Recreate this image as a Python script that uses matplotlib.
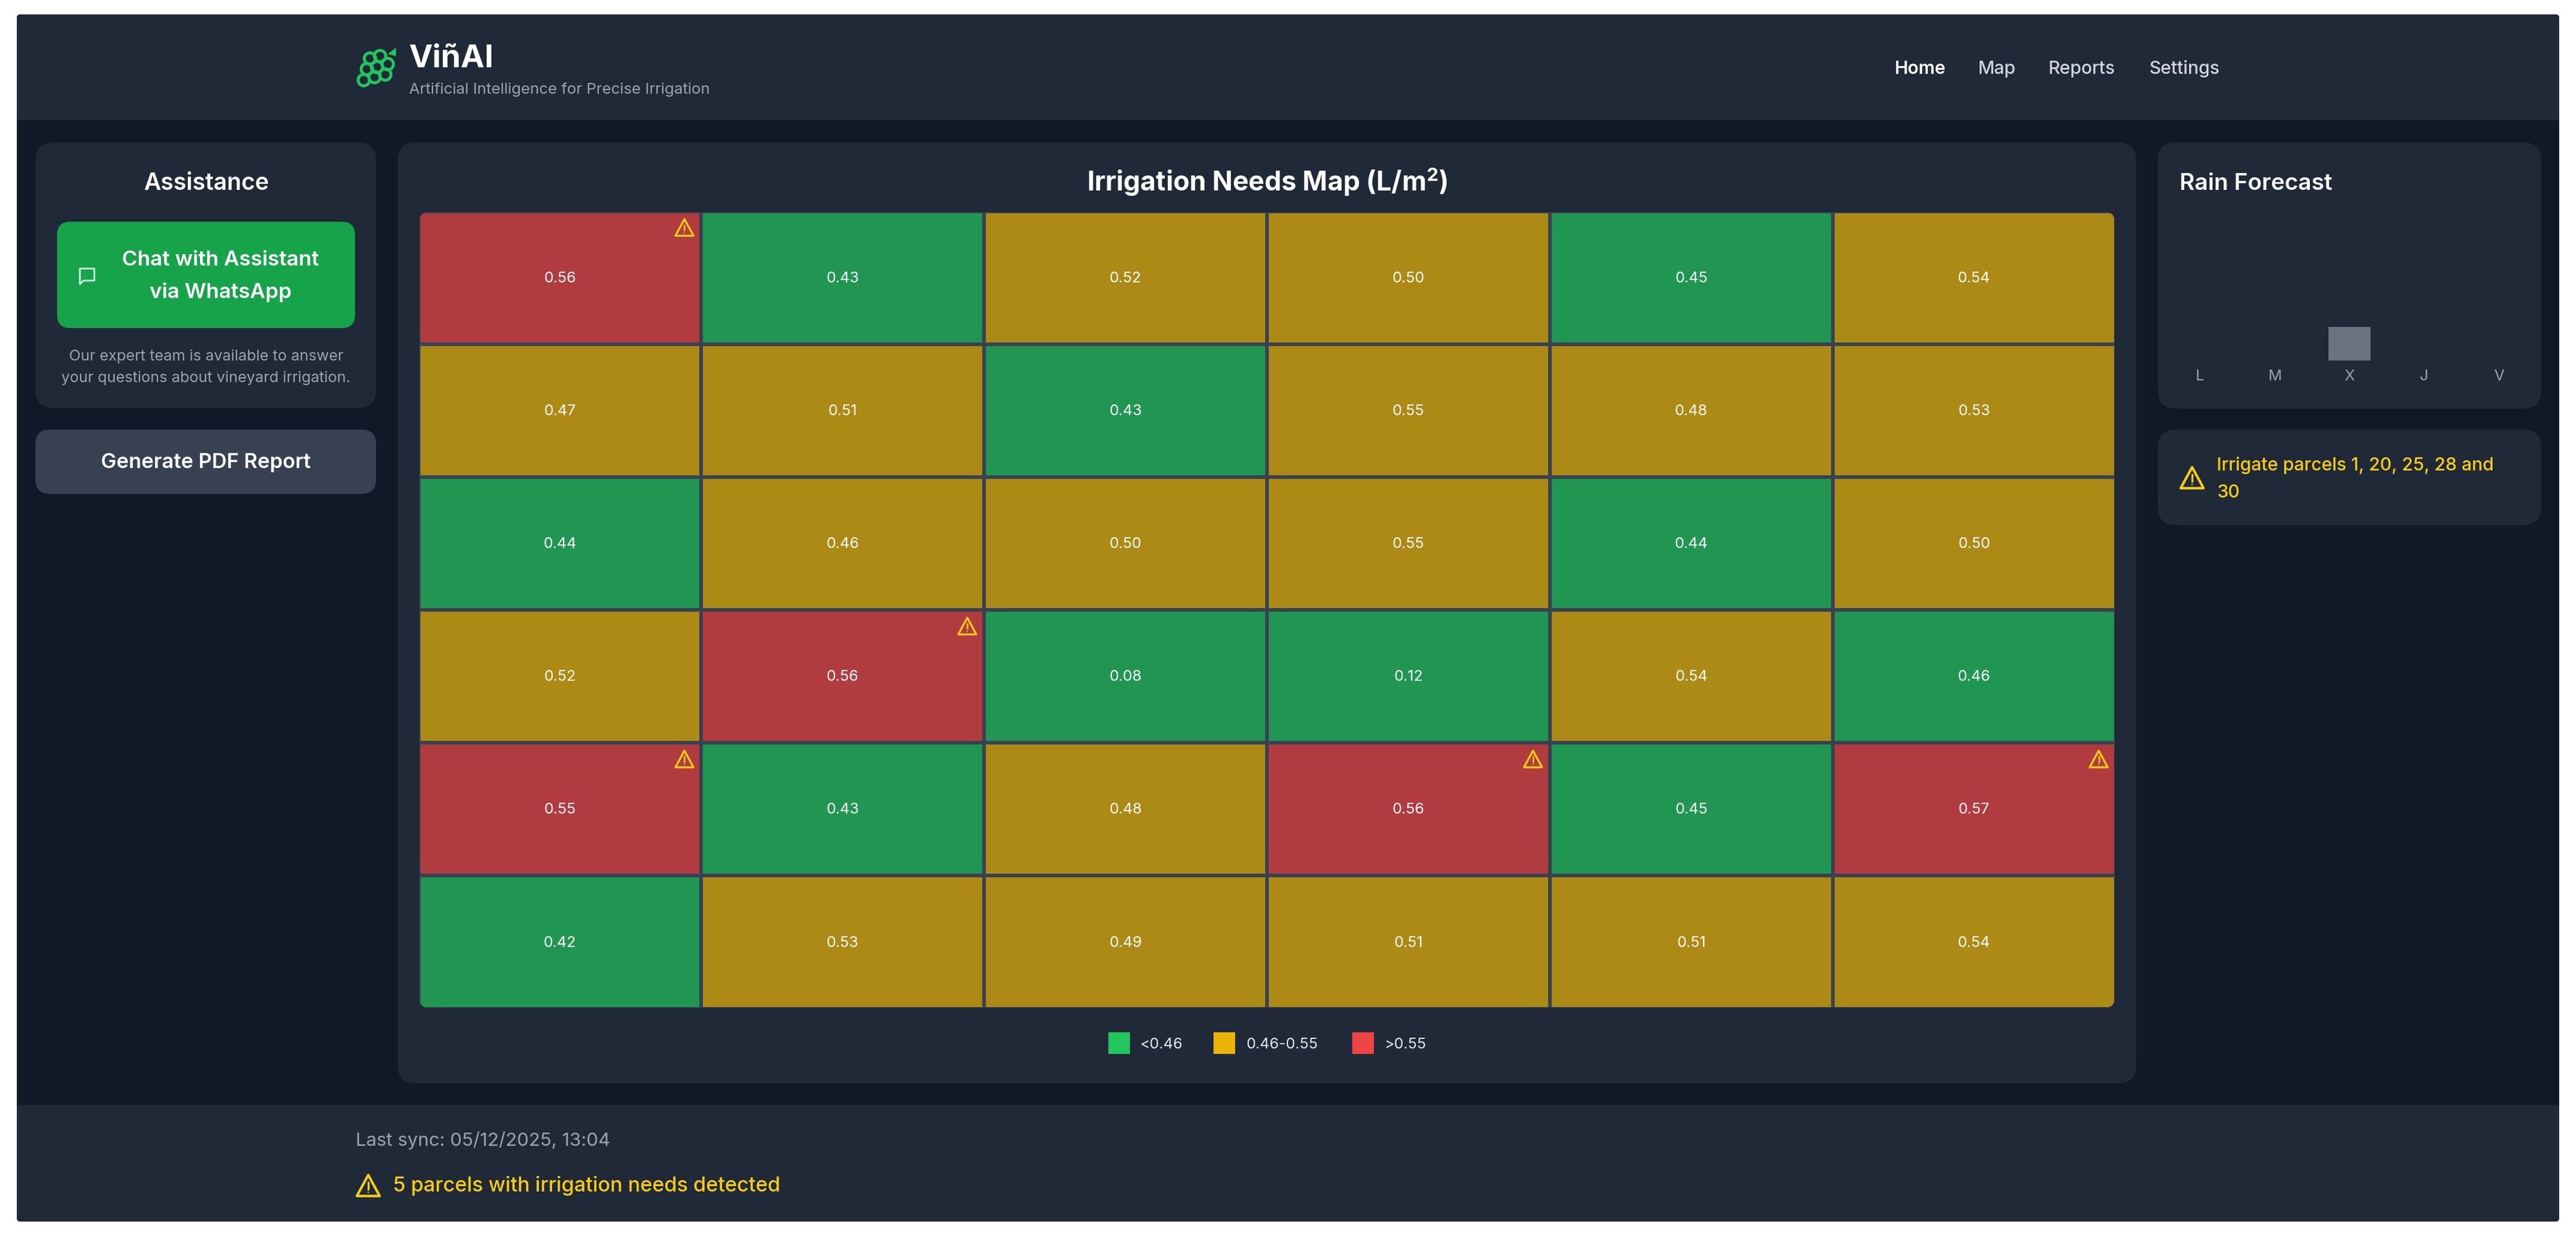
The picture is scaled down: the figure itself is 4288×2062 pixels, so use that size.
import matplotlib
matplotlib.use("Agg")
import matplotlib.pyplot as plt
from matplotlib.colors import ListedColormap, to_rgb
from matplotlib.patches import FancyBboxPatch, Circle, Polygon, Rectangle
from matplotlib.lines import Line2D

plt.rcParams["font.family"] = ["Inter", "DejaVu Sans"]
plt.rcParams["mathtext.fontset"] = "custom"
plt.rcParams["mathtext.bf"] = "Inter:bold"
plt.rcParams["mathtext.rm"] = "Inter"

W, H = 4288, 2062

# data
needs = [
    [0.56, 0.43, 0.52, 0.50, 0.45, 0.54],
    [0.47, 0.51, 0.43, 0.55, 0.48, 0.53],
    [0.44, 0.46, 0.50, 0.55, 0.44, 0.50],
    [0.52, 0.56, 0.08, 0.12, 0.54, 0.46],
    [0.55, 0.43, 0.48, 0.56, 0.45, 0.57],
    [0.42, 0.53, 0.49, 0.51, 0.51, 0.54],
]
# 0 green, 1 yellow, 2 red
levels = [
    [2, 0, 1, 1, 0, 1],
    [1, 1, 0, 1, 1, 1],
    [0, 1, 1, 1, 0, 1],
    [1, 2, 0, 0, 1, 0],
    [2, 0, 1, 2, 0, 2],
    [0, 1, 1, 1, 1, 1],
]
alert_parcels = [1, 20, 25, 28, 30]
rain_days = ["L", "M", "X", "J", "V"]
rain_mm = [0, 0, 2.8, 0, 0]
legend_labels = ["<0.46", "0.46-0.55", ">0.55"]
nav_labels = ["Home", "Map", "Reports", "Settings"]

BG = "#111827"
CARD = "#1f2937"
LINE = "#374151"
GREY = "#9ca3af"
AMBER = "#facc15"
LEVEL_COLORS = ["#22c55e", "#eab308", "#ef4444"]


def blend(color, alpha=0.7):
    # cells are the legend colours at 70% over the card
    fg, bg = to_rgb(color), to_rgb(CARD)
    return tuple(alpha * a + (1 - alpha) * b for a, b in zip(fg, bg))


def px_axes(zorder):
    ax = fig.add_axes([0, 0, 1, 1], zorder=zorder)
    ax.set_xlim(0, W)
    ax.set_ylim(H, 0)
    ax.axis("off")
    ax.patch.set_alpha(0)
    return ax


def box(ax, x0, y0, x1, y1, r, color):
    p = FancyBboxPatch((x0, y0), x1 - x0, y1 - y0, boxstyle=f"round,pad=0,rounding_size={r}",
                       fc=color, ec="none")
    ax.add_patch(p)
    return p


def label(ax, x, y, s, px, color="white", ha="left", weight="normal"):
    ax.text(x, y, s, fontsize=px * 0.72, color=color, ha=ha, va="baseline", fontweight=weight)


def warning(ax, cx, cy, w, color, lw=2.6):
    h = w * 0.92
    tri = [(cx, cy - h / 2), (cx + w / 2, cy + h / 2), (cx - w / 2, cy + h / 2)]
    ax.add_patch(Polygon(tri, closed=True, fc="none", ec=color, lw=lw, joinstyle="round"))
    ax.add_line(Line2D([cx, cx], [cy - h * 0.14, cy + h * 0.16], color=color, lw=lw * 0.8))
    ax.add_patch(Circle((cx, cy + h * 0.32), w * 0.035, fc=color, ec="none"))


fig = plt.figure(figsize=(W / 100, H / 100), dpi=100, facecolor="white")
page = px_axes(0)
top = px_axes(3)

# page frame, header, footer
box(page, 28, 24, 4260, 2033, 6, BG)
box(page, 28, 24, 4260, 200, 6, CARD)
box(page, 28, 1839, 4260, 2033, 6, CARD)

# logo
for cx, cy in [(227, 292), (260, 280), (217, 345), (250, 335), (285, 320),
               (207, 400), (242, 385), (277, 372)]:
    page.add_patch(Circle((500 + cx / 1.96, cy / 3), 9.5, fc="none", ec="#22c55e", lw=3.6))
page.add_patch(Polygon([(500 + 285 / 1.96, 270 / 3), (500 + 312 / 1.96, 238 / 3), (500 + 312 / 1.96, 280 / 3)],
                       closed=True, fc="#22c55e", ec="none"))
label(page, 681, 112, "ViñAI", 53, weight="bold")
label(page, 681, 156, "Artificial Intelligence for Precise Irrigation", 25.7, color=GREY)

for name, x in zip(nav_labels, [3154, 3293, 3410, 3577]):
    if name == "Home":
        label(page, x, 123, name, 30, weight="semibold")
    else:
        label(page, x, 123, name, 30, color="#d1d5db", weight="medium")

# left column
box(page, 59, 237, 626, 679, 30, CARD)
label(page, 343, 316, "Assistance", 39, ha="center", weight="semibold")
box(page, 95, 369, 591, 546, 22, "#16a34a")
label(page, 367, 442, "Chat with Assistant", 35, ha="center", weight="semibold")
label(page, 367, 496, "via WhatsApp", 35, ha="center", weight="semibold")
page.add_patch(Polygon([(133, 447), (157, 447), (157, 467), (139, 467), (133, 473)], closed=True,
                       fc="none", ec="#d1fae5", lw=2, joinstyle="round"))
label(page, 343, 600, "Our expert team is available to answer", 25.2, color=GREY, ha="center")
label(page, 343, 636, "your questions about vineyard irrigation.", 25.2, color=GREY, ha="center")
box(page, 59, 715, 626, 822, 24, LINE)
label(page, 343, 779, "Generate PDF Report", 34.4, ha="center", weight="semibold")

# centre card
box(page, 662, 237, 3556, 1803, 30, CARD)
label(page, 2110, 318, r"Irrigation Needs Map (L/m$^{\mathbf{2}}$)", 44.5, ha="center", weight="bold")

GX0, GY0, GX1, GY1 = 698, 353, 3520, 1677
clip = box(page, GX0, GY0, GX1, GY1, 16, LINE)
# axes a little larger than the clip so the outer grid line is nearly cut away
grid = fig.add_axes([(GX0 - 1.5) / W, 1 - (GY1 + 1.5) / H, (GX1 - GX0 + 3) / W, (GY1 - GY0 + 3) / H], zorder=1)
grid.set_xlim(0, 6)
grid.set_ylim(6, 0)
grid.axis("off")
mesh = grid.pcolormesh(levels, cmap=ListedColormap([blend(c) for c in LEVEL_COLORS]), vmin=-0.5, vmax=2.5,
                       edgecolors=LINE, linewidth=2.9)
mesh.set_clip_path(clip)
for r, row in enumerate(needs):
    for c, v in enumerate(row):
        grid.text(c + 0.5, r + 0.505, f"{v:.2f}", color="white", fontsize=18, ha="center", va="center")

for parcel in alert_parcels:
    r, c = divmod(parcel - 1, 6)
    x, y = top.transData.inverted().transform(grid.transData.transform((c + 1, r)))
    warning(top, x - 28, y + 27, 30, AMBER, lw=2.4)

# legend
for color, name, sx, tx in zip(LEVEL_COLORS, legend_labels, [1845, 2020, 2251], [1898, 2075, 2304]):
    page.add_patch(Rectangle((sx, 1718), 36, 36, fc=color, ec="none"))
    label(page, tx, 1745, name, 25, color="#e5e7eb")

# right column
box(page, 3592, 237, 4230, 680, 30, CARD)
label(page, 3628, 316, "Rain Forecast", 38.5, weight="semibold")
rain = fig.add_axes([3600 / W, 1 - 600 / H, 622 / W, 200 / H], zorder=1)
rain.patch.set_alpha(0)
rain.bar(range(5), rain_mm, width=0.57, color="#6b7280")
rain.set_xlim(-0.5, 4.5)
rain.set_ylim(0, 10)
rain.set_xticks(range(5), rain_days)
rain.set_yticks([])
rain.tick_params(axis="x", length=0, pad=11, labelsize=18, labelcolor=GREY)
for s in rain.spines.values():
    s.set_visible(False)

box(page, 3592, 715, 4230, 874, 30, CARD)
warning(page, 3649, 795, 38, AMBER, lw=3)
label(page, 3690, 783, "Irrigate parcels 1, 20, 25, 28 and", 30, color=AMBER, weight="medium")
label(page, 3690, 828, "30", 30, color=AMBER, weight="medium")

# footer
label(page, 592, 1907, "Last sync: 05/12/2025, 13:04", 31, color=GREY)
warning(page, 613, 1973, 38, AMBER, lw=3)
label(page, 654, 1983, "5 parcels with irrigation needs detected", 34, color=AMBER, weight="medium")

fig.savefig("out.png", dpi=100)
plt.close(fig)
